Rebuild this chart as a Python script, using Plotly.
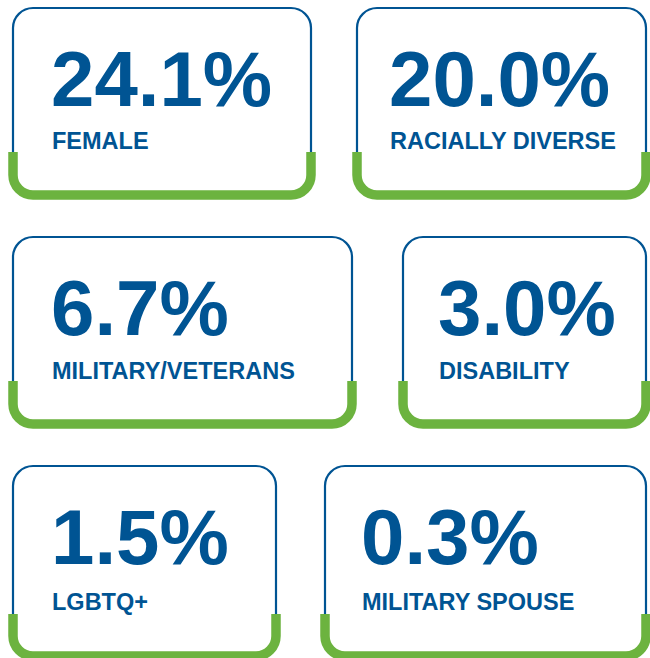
import plotly.graph_objects as go

# ---- data ----
values = ["24.1%", "20.0%", "6.7%", "3.0%", "1.5%", "0.3%"]
labels = ["FEMALE", "RACIALLY DIVERSE", "MILITARY/VETERANS", "DISABILITY", "LGBTQ+", "MILITARY SPOUSE"]

# ---- card geometry (pixels, separate from data) ----
card_x0 = [13, 357, 13, 403, 13, 325]
card_x1 = [311, 646, 352, 646, 276, 646]
card_top = [8, 8, 237, 237, 466, 466]
green_start = [152, 152, 381, 381, 614, 614]
green_bottom = [195, 195, 424, 424, 656, 656]
text_x = [50, 388, 50, 437, 50, 360]
value_base = [106, 106, 335, 335, 564, 564]
label_base = [149, 149, 379, 379, 610, 610]

BLUE = "#005493"
GREEN = "#6cb33f"
W, H = 650, 658
R = 20
K = 0.552

fig = go.Figure()
shapes = []
annotations = []
VAL_SIZE = 78
LAB_SIZE = 23.5
for i in range(len(values)):
    x0, x1, yt, ys, yb = card_x0[i], card_x1[i], card_top[i], green_start[i], green_bottom[i]
    p_blue = (f"M {x0},{ys} L {x0},{yt+R} "
              f"C {x0},{yt+R-K*R} {x0+R-K*R},{yt} {x0+R},{yt} "
              f"L {x1-R},{yt} "
              f"C {x1-R+K*R},{yt} {x1},{yt+R-K*R} {x1},{yt+R} "
              f"L {x1},{ys}")
    shapes.append(dict(type="path", path=p_blue, xref="x", yref="y",
                       line=dict(color=BLUE, width=2.2)))
    p_green = (f"M {x0},{ys} L {x0},{yb-R} "
               f"C {x0},{yb-R+K*R} {x0+R-K*R},{yb} {x0+R},{yb} "
               f"L {x1-R},{yb} "
               f"C {x1-R+K*R},{yb} {x1},{yb-R+K*R} {x1},{yb-R} "
               f"L {x1},{ys}")
    shapes.append(dict(type="path", path=p_green, xref="x", yref="y",
                       line=dict(color=GREEN, width=9.5)))
    vy = value_base[i] - 0.3475 * VAL_SIZE
    annotations.append(dict(x=text_x[i], y=vy, xref="x", yref="y", text=values[i],
                            showarrow=False, xanchor="left", yanchor="middle",
                            font=dict(family="Liberation Sans", size=VAL_SIZE, color=BLUE, weight="bold"),
                            borderpad=0))
    ly = label_base[i] - 0.3475 * LAB_SIZE
    annotations.append(dict(x=text_x[i] + 1, y=ly, xref="x", yref="y", text=labels[i],
                            showarrow=False, xanchor="left", yanchor="middle",
                            font=dict(family="Liberation Sans", size=LAB_SIZE, color=BLUE, weight="bold"),
                            borderpad=0))

fig.update_layout(
    width=W, height=H,
    margin=dict(l=0, r=0, t=0, b=0),
    paper_bgcolor="white", plot_bgcolor="white",
    xaxis=dict(range=[0, W], visible=False, fixedrange=True),
    yaxis=dict(range=[H, 0], visible=False, fixedrange=True),
    shapes=shapes, annotations=annotations, showlegend=False,
)
fig.write_html(
    "out.html",
    config={"displayModeBar": False},
    post_script="document.body.style.margin='0';document.body.style.overflow='hidden';",
)
